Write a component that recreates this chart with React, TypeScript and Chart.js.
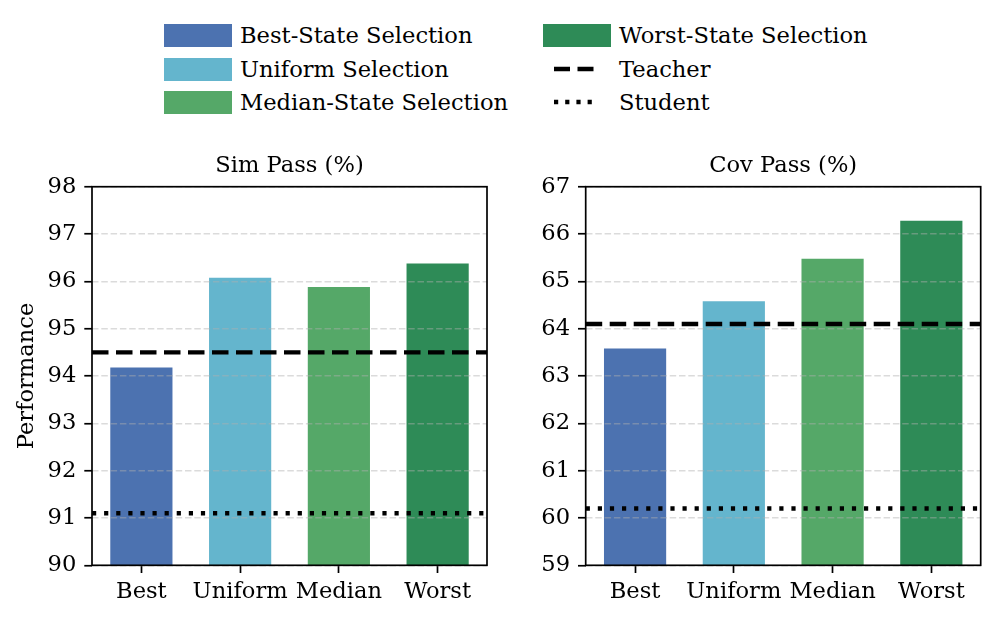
import React, { useEffect, useRef } from "react";
import { Chart, registerables } from "chart.js";

Chart.register(...registerables);

const FONT = "'DejaVu Serif', serif";
const FS = 22.6;

const categories = ["Best", "Uniform", "Median", "Worst"];
const seriesNames = [
  "Best-State Selection",
  "Uniform Selection",
  "Median-State Selection",
  "Worst-State Selection",
];
const barColors = ["#4C72B0", "#64B5CD", "#55A868", "#2E8B57"];

const simPass = [94.2, 96.1, 95.9, 96.4];
const simTeacher = 94.5;
const simStudent = 91.1;
const simRange = [90, 98];

const covPass = [63.6, 64.6, 65.5, 66.3];
const covTeacher = 64.1;
const covStudent = 60.2;
const covRange = [59, 67];

const panelTitles = ["Sim Pass (%)", "Cov Pass (%)"];
const yAxisTitle = "Performance";
const refLabels = ["Teacher", "Student"];
const refSpan = [-0.5, 3.5];

const framePlugin = {
  id: "frame",
  afterDraw(chart: any) {
    const { ctx, chartArea: a } = chart;
    ctx.save();
    ctx.strokeStyle = "#000";
    ctx.lineWidth = 1.7;
    ctx.strokeRect(a.left, a.top, a.right - a.left, a.bottom - a.top);
    ctx.restore();
  },
};

function makeConfig(
  values: number[],
  teacher: number,
  student: number,
  range: number[],
  title: string,
  showYTitle: boolean,
  yWidth: number,
  rightPad: number
): any {
  const font = { family: FONT, size: FS };
  return {
    type: "bar",
    data: {
      labels: categories,
      datasets: [
        {
          type: "bar",
          data: values,
          backgroundColor: barColors,
          borderColor: "rgba(255,255,255,0.7)",
          borderWidth: 1,
          barPercentage: 0.65,
          categoryPercentage: 1,
          grouped: false,
          xAxisID: "x",
          yAxisID: "y",
          order: 3,
        },
        {
          type: "line",
          data: [
            { x: refSpan[0], y: teacher },
            { x: refSpan[1], y: teacher },
          ],
          xAxisID: "xl",
          yAxisID: "y",
          borderColor: "#000",
          borderWidth: 4.4,
          borderDash: [16.5, 7.5],
          borderCapStyle: "butt",
          pointRadius: 0,
          fill: false,
          order: 1,
        },
        {
          type: "line",
          data: [
            { x: refSpan[0], y: student },
            { x: refSpan[1], y: student },
          ],
          xAxisID: "xl",
          yAxisID: "y",
          borderColor: "#000",
          borderWidth: 4.4,
          borderDash: [4.2, 7.9],
          borderCapStyle: "butt",
          pointRadius: 0,
          fill: false,
          order: 2,
        },
      ],
    },
    options: {
      responsive: false,
      animation: false,
      layout: { padding: { left: 0, right: rightPad, top: 0, bottom: 0 } },
      plugins: {
        legend: { display: false },
        tooltip: { enabled: false },
        title: {
          display: true,
          text: title,
          fullSize: false,
          color: "#000",
          font: { family: FONT, size: FS, weight: "normal" },
          padding: { top: 13, bottom: 6.6 },
        },
      },
      scales: {
        x: {
          type: "category",
          offset: true,
          ticks: {
            color: "#000",
            font,
            padding: 6,
            autoSkip: false,
            maxRotation: 0,
            minRotation: 0,
          },
          grid: {
            offset: false,
            drawOnChartArea: false,
            drawTicks: true,
            tickColor: "#000",
            tickLength: 7.7,
            tickWidth: 1.7,
          },
          border: { display: false },
          afterFit: (s: any) => {
            s.height = 54.7;
          },
        },
        xl: {
          type: "linear",
          min: refSpan[0],
          max: refSpan[1],
          offset: false,
          grid: { offset: false },
          display: false,
        },
        y: {
          min: range[0],
          max: range[1],
          ticks: { stepSize: 1, color: "#000", font, padding: 8 },
          grid: {
            color: "rgba(175,175,175,0.45)",
            lineWidth: 1.5,
            z: 1,
            drawTicks: true,
            tickColor: "#000",
            tickLength: 7.7,
            tickWidth: 1.7,
          },
          border: { display: false, dash: [6.5, 2.8] },
          title: {
            display: showYTitle,
            text: yAxisTitle,
            color: "#000",
            font,
            padding: { top: 14, bottom: 0 },
          },
          afterFit: (s: any) => {
            s.width = yWidth;
          },
        },
      },
    },
    plugins: [framePlugin],
  };
}

function Panel(props: { left: number; width: number; config: any }) {
  const ref = useRef<HTMLCanvasElement>(null);
  useEffect(() => {
    if (!ref.current) return;
    const chart = new Chart(ref.current, props.config);
    return () => chart.destroy();
  }, []);
  return (
    <canvas
      ref={ref}
      width={props.width}
      height={480}
      style={{
        position: "absolute",
        left: props.left,
        top: 140,
        width: props.width,
        height: 480,
      }}
    />
  );
}

const textStyle: React.CSSProperties = {
  position: "absolute",
  fontFamily: FONT,
  fontSize: FS,
  lineHeight: "26px",
  color: "#000",
  whiteSpace: "nowrap",
};

function Legend() {
  const rowCenters = [35, 69, 102];
  const items: React.ReactNode[] = [];
  for (let i = 0; i < 3; i++) {
    const cy = rowCenters[i];
    items.push(
      <div
        key={"p" + i}
        style={{
          position: "absolute",
          left: 164,
          top: cy - 11.5,
          width: 68,
          height: 23,
          background: barColors[i],
        }}
      />
    );
    items.push(
      <div key={"t" + i} style={{ ...textStyle, left: 240, top: cy - 13 }}>
        {seriesNames[i]}
      </div>
    );
  }
  items.push(
    <div
      key="p3"
      style={{
        position: "absolute",
        left: 543,
        top: rowCenters[0] - 11.5,
        width: 68,
        height: 23,
        background: barColors[3],
      }}
    />
  );
  items.push(
    <div key="t3" style={{ ...textStyle, left: 619, top: rowCenters[0] - 13 }}>
      {seriesNames[3]}
    </div>
  );
  const dashes = ["16 7.5", "4.2 7"];
  for (let j = 0; j < 2; j++) {
    const cy = rowCenters[j + 1];
    items.push(
      <svg
        key={"l" + j}
        width={44}
        height={10}
        style={{ position: "absolute", left: 554, top: cy - 5 }}
      >
        <line
          x1={0}
          y1={5}
          x2={42}
          y2={5}
          stroke="#000"
          strokeWidth={4.4}
          strokeDasharray={dashes[j]}
        />
      </svg>
    );
    items.push(
      <div key={"r" + j} style={{ ...textStyle, left: 619, top: cy - 13 }}>
        {refLabels[j]}
      </div>
    );
  }
  return <>{items}</>;
}

export default function App() {
  const simConfig = makeConfig(
    simPass,
    simTeacher,
    simStudent,
    simRange,
    panelTitles[0],
    true,
    92,
    10
  );
  const covConfig = makeConfig(
    covPass,
    covTeacher,
    covStudent,
    covRange,
    panelTitles[1],
    false,
    88.7,
    16.3
  );
  return (
    <div
      style={{
        position: "absolute",
        left: 0,
        top: 0,
        width: 997,
        height: 620,
        background: "#fff",
      }}
    >
      <Legend />
      <Panel left={0} width={497} config={simConfig} />
      <Panel left={497} width={500} config={covConfig} />
    </div>
  );
}
